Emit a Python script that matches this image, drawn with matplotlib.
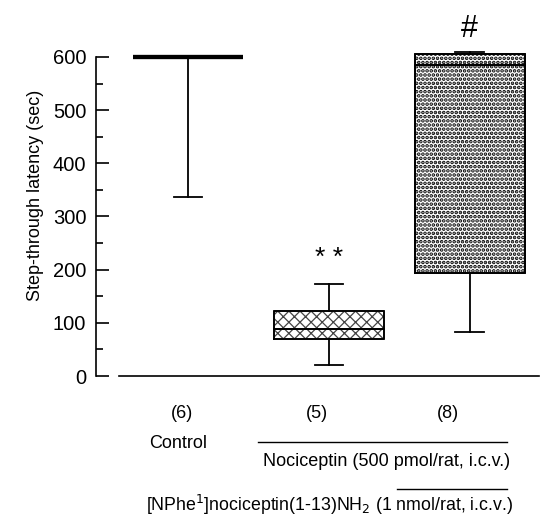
import matplotlib
matplotlib.use('Agg')
from matplotlib import pyplot as plt

plt.rcParams['font.family'] = ['Liberation Sans', 'DejaVu Sans']
plt.rcParams['hatch.linewidth'] = 0.9

# box statistics (sec)
groups = ['(6)', '(5)', '(8)']
whislo = [336, 21, 83]
q1 = [600, 70, 193]
med = [600, 88, 585]
q3 = [600, 122, 605]
whishi = [600, 173, 609]
marks = ['', '* *', '#']
mark_y = [0, 222, 652]

yticks = [0, 100, 200, 300, 400, 500, 600]
ylabel = 'Step-through latency (sec)'
treat1 = 'Nociceptin (500 pmol/rat, i.c.v.)'
treat2 = '[NPhe$^{1}$]nociceptin(1-13)NH$_{2}$ (1 nmol/rat, i.c.v.)'

fig = plt.figure(figsize=(5.46, 5.22), dpi=100)
ax = fig.add_axes([96/546, 1-376/522, 444/546, 361.6/522])

stats = []
for i in range(3):
    stats.append(dict(whislo=whislo[i], q1=q1[i], med=med[i], q3=q3[i],
                      whishi=whishi[i], fliers=[]))
pos = [1, 2, 3]
bp = ax.bxp(stats, positions=pos, widths=0.78, capwidths=0.2,
            patch_artist=True, showfliers=False,
            boxprops=dict(linewidth=1.3, edgecolor='black'),
            medianprops=dict(color='black', linewidth=1.3),
            whiskerprops=dict(color='black', linewidth=1.3),
            capprops=dict(color='black', linewidth=1.3))
bp['boxes'][0].set_linewidth(3)
bp['medians'][0].set_linewidth(3)
bp['boxes'][0].set_facecolor('white')
bp['boxes'][1].set_facecolor('white')
bp['boxes'][1].set_hatch('xxx')
bp['boxes'][1].set_edgecolor('#444444')
bp['boxes'][2].set_facecolor('white')
bp['boxes'][2].set_hatch('....')
bp['boxes'][2].set_edgecolor('black')
if hasattr(bp['boxes'][2], 'set_hatch_linewidth'):
    bp['boxes'][2].set_hatch_linewidth(1.8)
for b in bp['boxes'][1:]:
    b.set_linewidth(1.3)
# box outline in black on top of hatch
for i in (1, 2):
    x0 = pos[i] - 0.39
    ax.plot([x0, x0 + 0.78, x0 + 0.78, x0, x0],
            [q1[i], q1[i], q3[i], q3[i], q1[i]], color='black', lw=1.3, zorder=5)
    ax.plot([x0, x0 + 0.78], [med[i], med[i]], color='black', lw=1.3, zorder=5)

for i in range(3):
    if marks[i]:
        ax.text(pos[i], mark_y[i], marks[i], ha='center', va='center',
                fontsize=22 if marks[i] == '#' else 19)

ax.set_xlim(0.348, 3.5)
ax.set_ylim(0, 680)
ax.set_yticks(yticks)
ax.set_yticks(range(50, 600, 100), minor=True)
ax.tick_params(axis='y', which='major', direction='in', length=9, width=1.2,
               labelsize=14.5, pad=7)
ax.tick_params(axis='y', which='minor', direction='in', length=5, width=1.2)
ax.set_xticks([])
for s in ['top', 'right']:
    ax.spines[s].set_visible(False)
ax.spines['left'].set_bounds(0, 600)
ax.spines['left'].set_linewidth(1.2)
ax.spines['bottom'].set_bounds(0.511, 3.496)
ax.spines['bottom'].set_linewidth(1.2)
ax.set_ylabel(ylabel, fontsize=13, labelpad=6)

# labels below the axis
def fx(px):
    return px / 546
def fy(py):
    return 1 - py / 522

for x, g in zip([182, 317, 448], groups):
    fig.text(fx(x), fy(413), g, ha='center', va='center', fontsize=13)
fig.text(fx(178), fy(444), 'Control', ha='center', va='center', fontsize=13)
fig.add_artist(plt.Line2D([fx(258), fx(507)], [fy(442), fy(442)], color='black', lw=1))
fig.text(fx(387), fy(461), treat1, ha='center', va='center', fontsize=13)
fig.add_artist(plt.Line2D([fx(397), fx(507)], [fy(489), fy(489)], color='black', lw=1))
fig.text(fx(330), fy(505), treat2, ha='center', va='center', fontsize=12.8)

plt.savefig('out.png', dpi=100)
